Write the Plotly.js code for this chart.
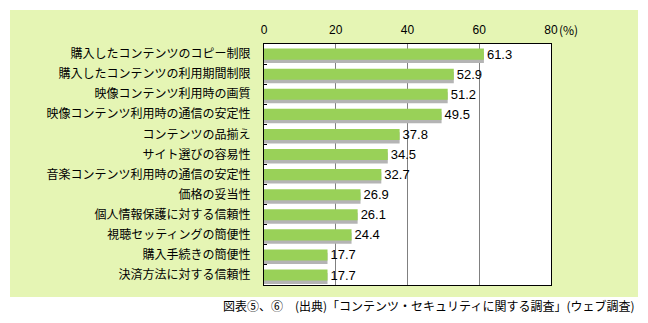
<!DOCTYPE html>
<html>
<head>
<meta charset="utf-8">
<script src="https://cdn.plot.ly/plotly-3.0.1.min.js"></script>
<style>html,body{margin:0;padding:0;background:#fff;}</style>
</head>
<body>
<div id="chart" style="width:648px;height:323px;"></div>
<script>
const categories = [
  "購入したコンテンツのコピー制限",
  "購入したコンテンツの利用期間制限",
  "映像コンテンツ利用時の画質",
  "映像コンテンツ利用時の通信の安定性",
  "コンテンツの品揃え",
  "サイト選びの容易性",
  "音楽コンテンツ利用時の通信の安定性",
  "価格の妥当性",
  "個人情報保護に対する信頼性",
  "視聴セッティングの簡便性",
  "購入手続きの簡便性",
  "決済方法に対する信頼性"
];
const values = [61.3, 52.9, 51.2, 49.5, 37.8, 34.5, 32.7, 26.9, 26.1, 24.4, 17.7, 17.7];
const xTickVals = [0, 20, 40, 60, 80];
const xTickText = ["0", "20", "40", "60", "80"];
const unitLabel = "(%)";
const footerText = "図表⑤、⑥　(出典)「コンテンツ・セキュリティに関する調査」(ウェブ調査)";

const jp = '"Noto Sans CJK JP", "Noto Sans", sans-serif';
const num = '"Liberation Sans", Arial, sans-serif';

const shadow = {
  type: 'bar', orientation: 'h',
  x: values, y: categories,
  marker: {color: '#b4b4b4', line: {width: 0}},
  width: 0.55, offset: -0.1,
  hoverinfo: 'skip', showlegend: false
};
const bars = {
  type: 'bar', orientation: 'h',
  x: values, y: categories,
  marker: {color: '#99d158', line: {width: 0}},
  width: 0.55, offset: -0.27,
  text: values.map(v => v.toFixed(1)),
  textposition: 'outside',
  constraintext: 'none',
  textfont: {family: num, size: 13, color: '#000'},
  cliponaxis: false,
  showlegend: false
};

const L = 264, R = 551, T = 44, B = 285;
const pw = R - L, ph = B - T;
const px = v => (v - L) / pw;
const py = v => (B - v) / ph;

const layout = {
  width: 648, height: 323,
  margin: {l: L, r: 648 - R, t: T, b: 323 - B, pad: 0},
  paper_bgcolor: '#ffffff',
  plot_bgcolor: 'rgba(0,0,0,0)',
  barmode: 'overlay',
  showlegend: false,
  uniformtext: {mode: false},
  xaxis: {
    range: [0, 80], side: 'top',
    tickvals: xTickVals, ticktext: xTickText,
    showgrid: true, gridcolor: '#808080', gridwidth: 1,
    zeroline: false, showline: true, linecolor: '#000', linewidth: 1, mirror: true,
    ticks: '', ticklabelstandoff: 4,
    tickfont: {family: num, size: 12, color: '#000'},
    fixedrange: true
  },
  yaxis: {
    type: 'category', autorange: 'reversed',
    showgrid: false, zeroline: false,
    showline: true, linecolor: '#000', linewidth: 1, mirror: true,
    ticks: 'inside', ticklen: 3, tickcolor: '#000', tickson: 'boundaries',
    ticklabelstandoff: 10,
    tickfont: {family: jp, size: 12, color: '#000'},
    fixedrange: true
  },
  shapes: [
    {type: 'rect', xref: 'paper', yref: 'paper', layer: 'below',
     x0: px(10), x1: px(638), y0: py(297), y1: py(10),
     fillcolor: '#e5f5b4', line: {width: 0}},
    {type: 'rect', xref: 'paper', yref: 'paper', layer: 'below',
     x0: 0, x1: 1, y0: 0, y1: 1,
     fillcolor: '#ffffff', line: {width: 0}}
  ],
  annotations: [
    {xref: 'x', yref: 'paper', x: 80, y: 1, xanchor: 'left', yanchor: 'bottom',
     xshift: 6, yshift: 4, showarrow: false, text: unitLabel,
     font: {family: jp, size: 12, color: '#000'}},
    {xref: 'paper', yref: 'paper', x: px(637), y: py(305), xanchor: 'right', yanchor: 'middle',
     showarrow: false, text: footerText,
     font: {family: jp, size: 12, color: '#000'}}
  ]
};

Plotly.newPlot('chart', [shadow, bars], layout, {displayModeBar: false, staticPlot: true});
</script>
</body>
</html>
